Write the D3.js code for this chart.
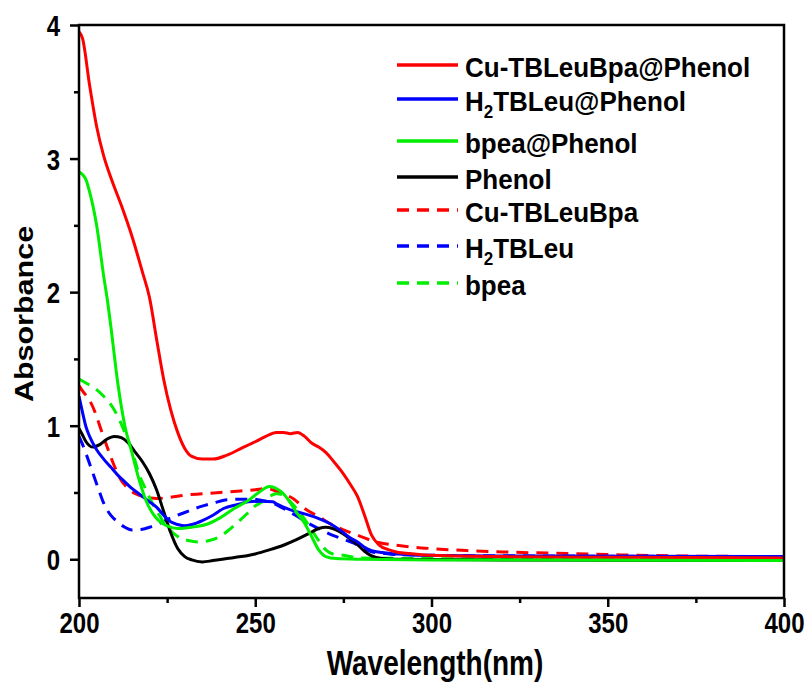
<!DOCTYPE html>
<html>
<head>
<meta charset="utf-8">
<script src="https://cdn.jsdelivr.net/npm/d3@7"></script>
<style>
  html, body { margin: 0; padding: 0; background: #fff; }
  svg { display: block; font-family: "Liberation Sans", Arial, sans-serif; font-weight: bold; }
</style>
</head>
<body>
<svg id="chart" width="808" height="684"></svg>
<script>
// UV-Vis absorbance spectra, wavelength in nm
const cuPhenolWl = [200,201,203,205,207,209,212,215,218,220,222,224,226,228,230,232,235,238,242,246,250,253,256,258,260,262,264,266,268,270,272,275,277,279,281,283,285,288,290,295,300,320,350,400];
const cuPhenolAbs = [3.95,3.90,3.55,3.24,3.02,2.86,2.65,2.42,2.15,1.96,1.65,1.35,1.12,0.95,0.83,0.77,0.75,0.75,0.78,0.83,0.88,0.92,0.95,0.95,0.94,0.95,0.92,0.87,0.84,0.80,0.74,0.64,0.56,0.47,0.33,0.18,0.11,0.07,0.055,0.04,0.03,0.02,0.015,0.01];

const h2PhenolWl = [200,201,202,203,205,207,209,211,213,215,217,220,222,224,226,228,230,232,235,238,241,245,248,252,255,256,258,260,264,268,271,274,277,279,281,283,286,290,296,320,400];
const h2PhenolAbs = [1.22,1.10,0.99,0.92,0.82,0.75,0.69,0.63,0.58,0.53,0.49,0.43,0.39,0.33,0.28,0.26,0.25,0.26,0.29,0.33,0.38,0.41,0.43,0.435,0.43,0.415,0.39,0.37,0.34,0.305,0.27,0.22,0.16,0.13,0.09,0.065,0.05,0.04,0.03,0.025,0.02];

const bpeaPhenolWl = [200,201,202,203,204,205,207,208,209,211,213,215,217,219,221,223,225,228,232,236,240,244,248,251,254,256,258,260,262,264,266,268,270,273,280,300,400];
const bpeaPhenolAbs = [2.90,2.88,2.84,2.75,2.64,2.50,2.12,1.95,1.75,1.32,1.00,0.80,0.60,0.44,0.34,0.28,0.25,0.23,0.24,0.26,0.31,0.38,0.44,0.50,0.545,0.53,0.49,0.42,0.34,0.27,0.17,0.07,0.02,0.005,0.0,-0.005,-0.01];

const phenolWl = [200,201,202,204,206,208,210,212,214,216,218,220,222,224,226,228,230,232,235,238,242,246,250,254,258,262,265,268,270,272,275,277,279,281,283,286,290,320,400];
const phenolAbs = [0.98,0.93,0.88,0.84,0.86,0.90,0.92,0.91,0.87,0.80,0.73,0.64,0.52,0.36,0.20,0.08,0.02,-0.005,-0.02,-0.01,0.005,0.02,0.04,0.07,0.105,0.15,0.19,0.23,0.24,0.23,0.19,0.15,0.11,0.06,0.025,0.005,0.0,-0.005,-0.01];

const cuWl = [200,201,203,205,206,208,210,212,214,216,219,222,226,230,235,240,245,250,253,256,258,261,264,268,271,275,279,282,285,290,295,300,310,320,335,350,370,400];
const cuAbs = [1.30,1.26,1.19,1.07,0.99,0.84,0.70,0.59,0.53,0.49,0.465,0.455,0.465,0.48,0.49,0.50,0.51,0.52,0.53,0.51,0.49,0.45,0.38,0.32,0.27,0.22,0.18,0.15,0.125,0.105,0.09,0.08,0.065,0.055,0.045,0.035,0.025,0.02];

const h2Wl = [200,201,202,204,206,207,209,211,213,215,218,220,223,226,230,234,238,242,246,249,252,255,258,262,265,268,271,274,278,281,283,286,290,300,330,400];
const h2Abs = [0.92,0.86,0.79,0.64,0.49,0.42,0.33,0.28,0.24,0.22,0.225,0.24,0.27,0.31,0.35,0.39,0.42,0.445,0.45,0.45,0.44,0.42,0.38,0.32,0.27,0.23,0.19,0.16,0.12,0.08,0.055,0.045,0.035,0.03,0.025,0.02];

const bpeaWl = [200,202,205,207,209,211,213,215,217,219,221,223,225,227,229,231,234,237,240,243,246,248,250,252,254,256,258,260,262,264,266,268,270,272,275,280,300,400];
const bpeaAbs = [1.35,1.32,1.27,1.22,1.16,1.07,0.95,0.82,0.64,0.52,0.41,0.32,0.24,0.19,0.155,0.14,0.13,0.14,0.17,0.23,0.30,0.35,0.40,0.43,0.47,0.49,0.48,0.43,0.37,0.30,0.22,0.14,0.07,0.04,0.03,0.01,0.005,0.0];

const seriesNames = ["Cu-TBLeuBpa@Phenol", "H2TBLeu@Phenol", "bpea@Phenol", "Phenol", "Cu-TBLeuBpa", "H2TBLeu", "bpea"];
const seriesColors = ["#ff0000", "#0000ff", "#00ee00", "#000000", "#ff0000", "#0000ff", "#00ee00"];
const seriesDashed = [false, false, false, false, true, true, true];

const xTicks = [200, 250, 300, 350, 400];
const yTicks = [0, 1, 2, 3, 4];
const xMinorTicks = [225, 275, 325, 375];
const yMinorTicks = [0.5, 1.5, 2.5, 3.5];
const xLabel = "Wavelength(nm)";
const yLabel = "Absorbance";

const series = [
  [cuPhenolWl, cuPhenolAbs], [h2PhenolWl, h2PhenolAbs], [bpeaPhenolWl, bpeaPhenolAbs], [phenolWl, phenolAbs],
  [cuWl, cuAbs], [h2Wl, h2Abs], [bpeaWl, bpeaAbs]
].map(([wl, ab], i) => ({
  name: seriesNames[i], color: seriesColors[i], dashed: seriesDashed[i],
  points: wl.map((w, j) => ({ w, a: ab[j] }))
}));

const svg = d3.select("#chart");
const plotLeft = 79, plotRight = 784, plotTop = 25, plotBottom = 598;
const stretch = 1.22;      // tall, condensed lettering for the axis text
const dash = "12,8";

const x = d3.scaleLinear().domain([200, 400]).range([plotLeft, plotRight]);
const y = d3.scaleLinear().domain([-0.29, 4]).range([plotBottom, plotTop]);

svg.append("defs").append("clipPath").attr("id", "plot-clip")
  .append("rect").attr("x", plotLeft).attr("y", plotTop)
  .attr("width", plotRight - plotLeft).attr("height", plotBottom - plotTop);

const line = d3.line().x(d => x(d.w)).y(d => y(d.a)).curve(d3.curveMonotoneX);

const plot = svg.append("g").attr("clip-path", "url(#plot-clip)");
// dashed spectra underneath, solid spectra on top
const drawOrder = [4, 5, 6, 3, 1, 0, 2];
drawOrder.forEach(i => {
  const s = series[i];
  plot.append("path")
    .datum(s.points)
    .attr("fill", "none")
    .attr("stroke", s.color)
    .attr("stroke-width", 3)
    .attr("stroke-dasharray", s.dashed ? dash : null)
    .attr("stroke-linejoin", "round")
    .attr("d", line);
});

// axes with major ticks and minor midpoints
const xAxis = d3.axisBottom(x).tickValues(xTicks).tickSize(9).tickFormat(d3.format("d"));
const yAxis = d3.axisLeft(y).tickValues(yTicks).tickSize(9).tickFormat(d3.format("d"));
const xMinor = d3.axisBottom(x).tickValues(xMinorTicks).tickSize(5).tickFormat("");
const yMinor = d3.axisLeft(y).tickValues(yMinorTicks).tickSize(5).tickFormat("");

function styleAxis(g) {
  g.select(".domain").remove();
  g.selectAll(".tick line").attr("stroke", "#000").attr("stroke-width", 2.5);
  g.selectAll(".tick text").attr("fill", "#000").style("font-size", "24px").style("font-weight", "bold")
    .style("font-family", "'Liberation Sans', Arial, sans-serif");
}

svg.append("g").attr("transform", `translate(0,${plotBottom})`).call(xAxis).call(styleAxis)
  .selectAll(".tick text")
  .attr("y", 0).attr("dy", null)
  .attr("transform", `translate(0,35) scale(1,${stretch})`);
svg.append("g").attr("transform", `translate(0,${plotBottom})`).call(xMinor).call(styleAxis);
svg.append("g").attr("transform", `translate(${plotLeft},0)`).call(yAxis).call(styleAxis)
  .selectAll(".tick text")
  .attr("x", 0).attr("dy", null)
  .attr("transform", `translate(-19,10.5) scale(1,${stretch})`);
svg.append("g").attr("transform", `translate(${plotLeft},0)`).call(yMinor).call(styleAxis);

// frame
svg.append("rect")
  .attr("x", plotLeft).attr("y", plotTop).attr("width", plotRight - plotLeft).attr("height", plotBottom - plotTop)
  .attr("fill", "none").attr("stroke", "#000").attr("stroke-width", 2.5);

// axis titles
svg.append("text")
  .attr("transform", `translate(435,675) scale(1,${stretch})`)
  .attr("text-anchor", "middle").style("font-size", "28px")
  .text(xLabel);
svg.append("text")
  .attr("transform", `translate(33,314) scale(1,${stretch}) rotate(-90)`)
  .attr("text-anchor", "middle").style("font-size", "25px")
  .text(yLabel);

// legend
const legendRows = [65, 99, 141, 177, 210, 246, 283];
const legend = svg.append("g");
series.forEach((s, i) => {
  const ry = legendRows[i];
  legend.append("line")
    .attr("x1", 397).attr("x2", 458).attr("y1", ry).attr("y2", ry)
    .attr("stroke", s.color).attr("stroke-width", 3.5)
    .attr("stroke-dasharray", s.dashed ? dash : null);
  const t = legend.append("text")
    .attr("transform", `translate(465,${ry + 11.5}) scale(1,1.07)`)
    .style("font-size", "26px");
  const m = s.name.match(/^H2(.*)$/);
  if (m) {
    t.append("tspan").text("H");
    t.append("tspan").attr("dy", 7).style("font-size", "17px").text("2");
    t.append("tspan").attr("dy", -7).text(m[1]);
  } else {
    t.text(s.name);
  }
});
</script>
</body>
</html>
